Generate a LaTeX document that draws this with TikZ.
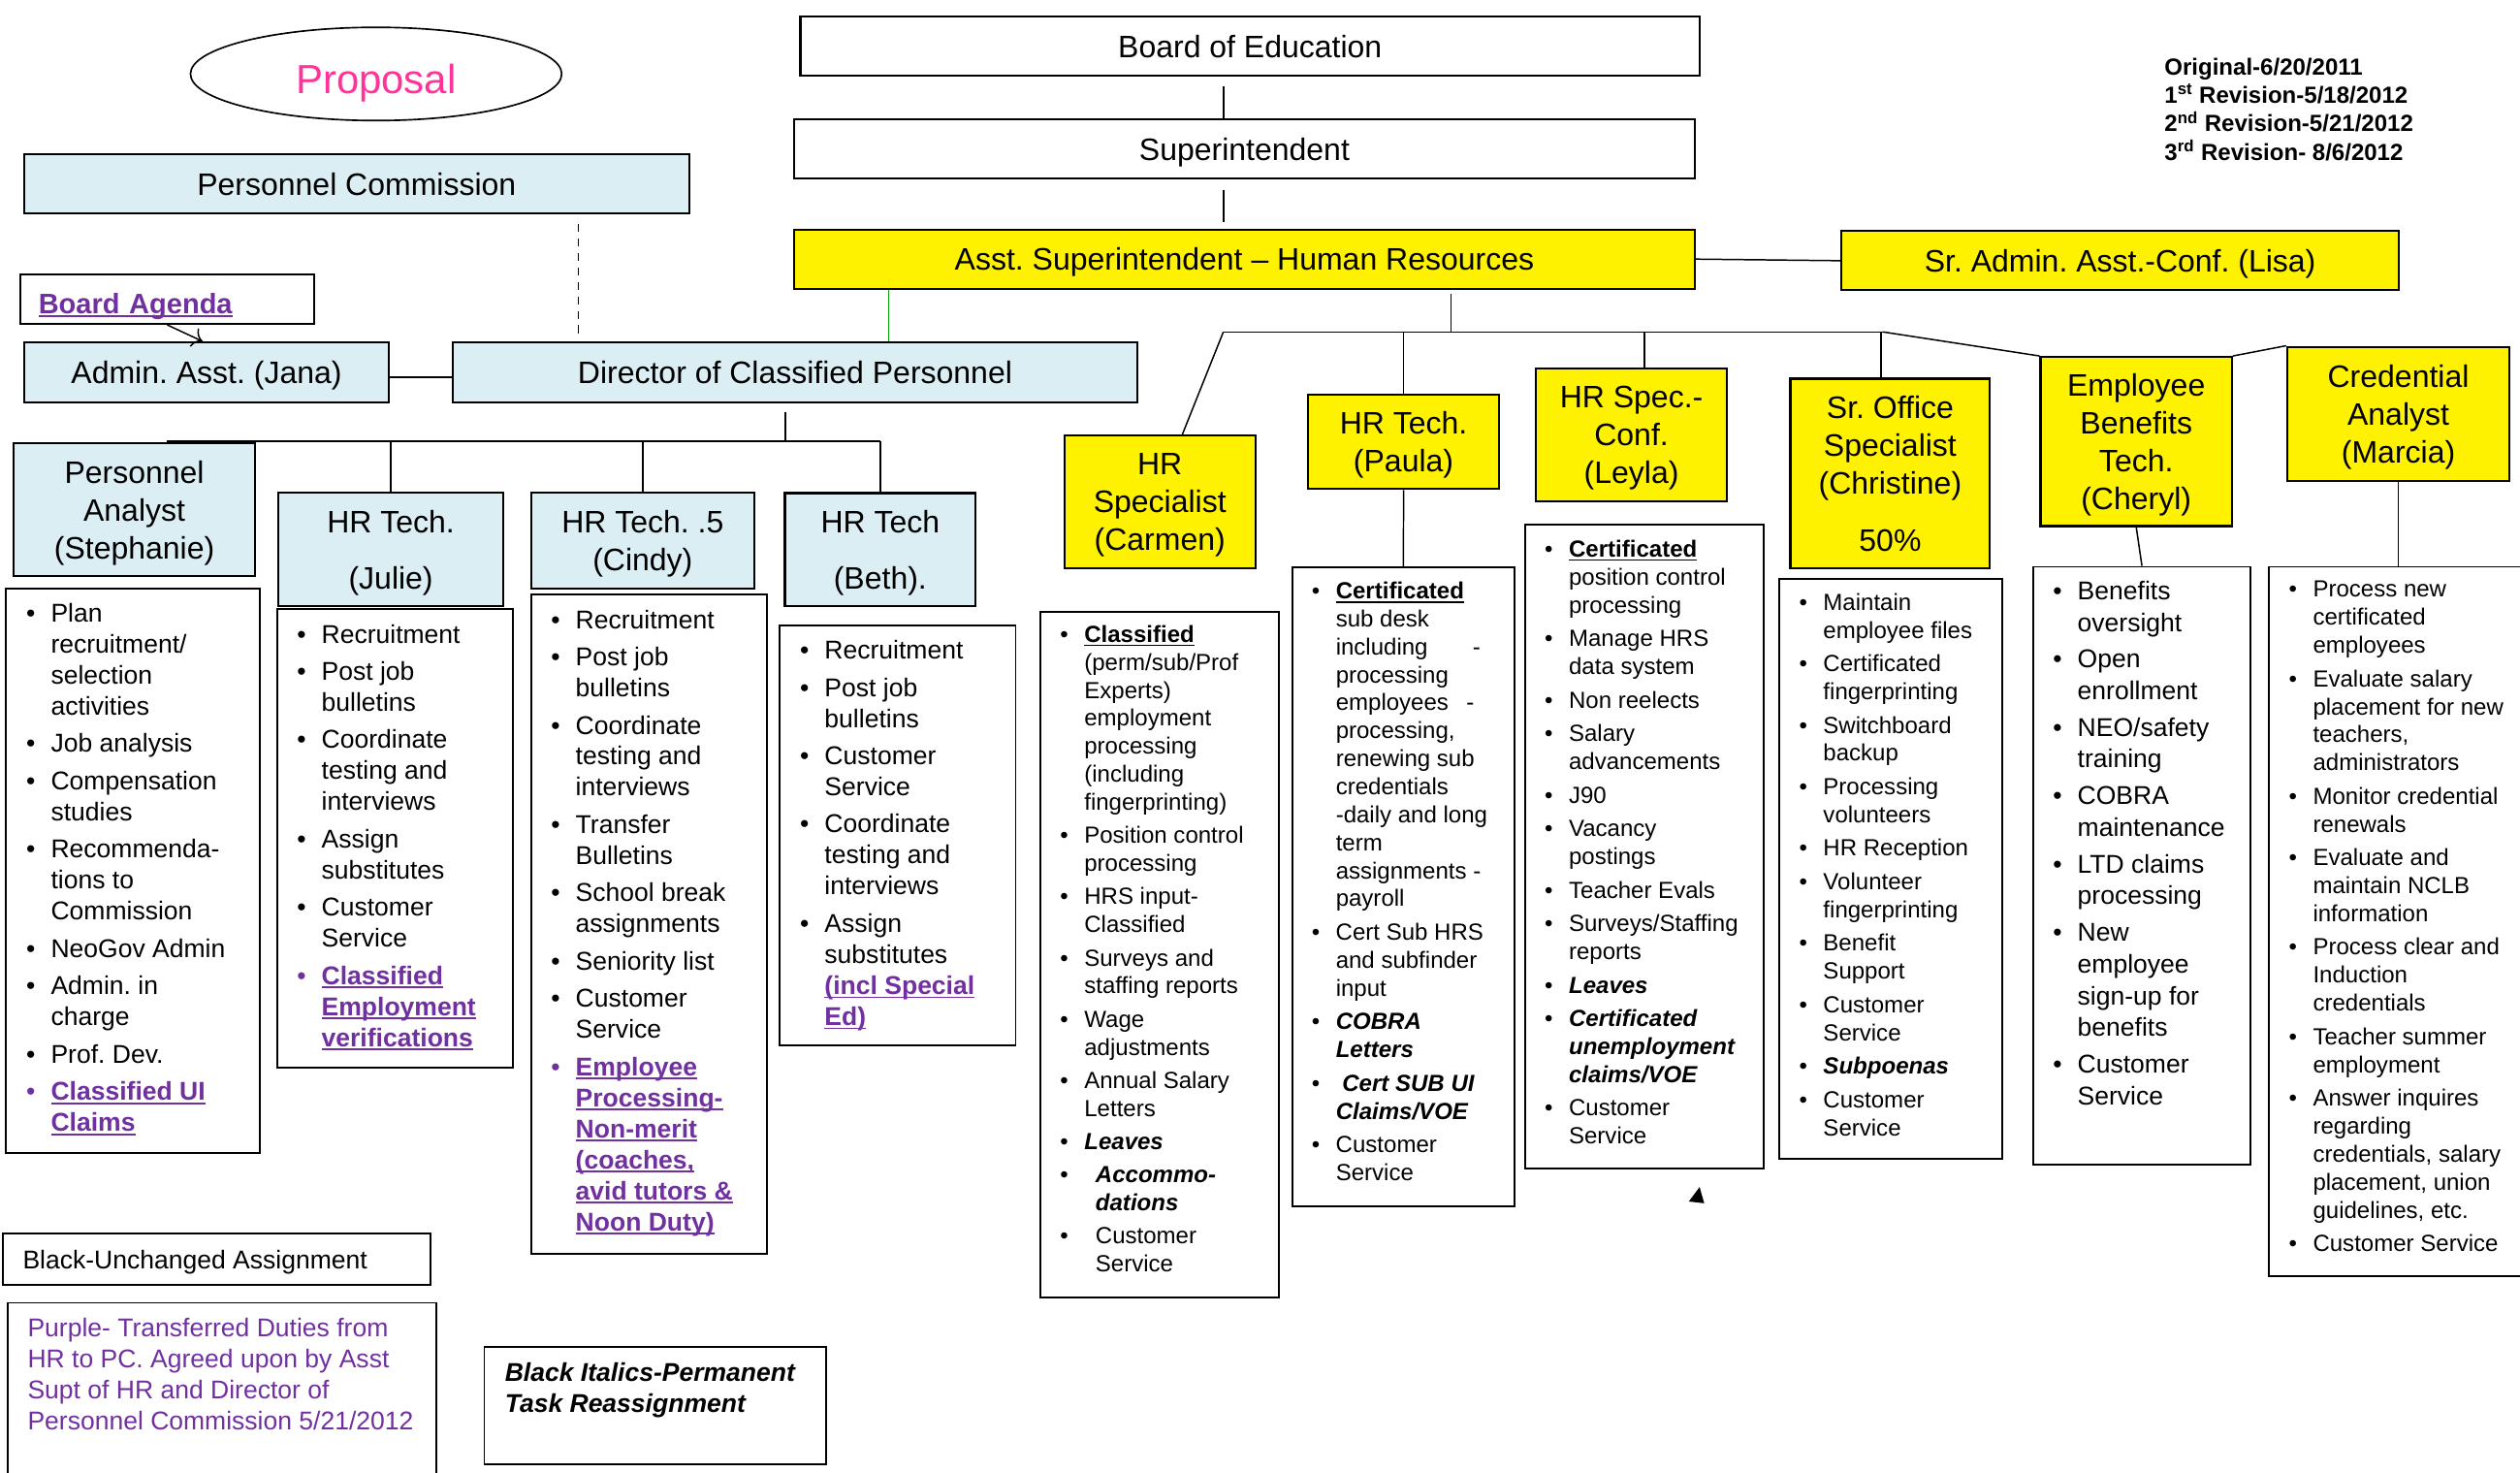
\documentclass[tikz,border=0pt]{standalone}
\usepackage{fontspec}
\setmainfont{Liberation Sans}
\usetikzlibrary{shapes.geometric,arrows.meta}

\definecolor{purp}{RGB}{112,48,160}
\definecolor{aqua}{RGB}{218,238,243}
\definecolor{propink}{RGB}{255,51,153}
\definecolor{hrgreen}{RGB}{0,160,0}

% duty lists
\newlength{\dgap}
\newcommand{\blt}{\makebox[25pt]{\textbullet}}
\newcommand{\pblt}{\makebox[25pt]{\color{purp}\textbullet}}
\newcommand{\ulin}[1]{\setbox0=\hbox{#1}\rlap{\rule[-2.4pt]{\wd0}{1.1pt}}\box0}
\newcommand{\pul}[1]{{\color{purp}\bfseries\ulin{#1}}}
\newcommand{\bul}[1]{{\bfseries\ulin{#1}}}
\newcommand{\bita}[1]{{\bfseries\itshape #1}}
\newcommand{\nxt}{\\[\dgap]}
\newcommand{\duties}[2][3.9pt]{\setlength{\dgap}{#1}\begin{tabular}[t]{@{}l@{}l@{}}#2\end{tabular}}

\begin{document}
\frenchspacing
\begin{tikzpicture}[x=1pt, y=-1pt,
  sz/.style 2 args={minimum width=#1pt, minimum height=#2pt},
  hdr/.style={draw, line width=1.3pt, inner sep=0pt, align=center, text depth=0pt,
              font=\fontsize{19.3}{23.5}\selectfont},
  plainhdr/.style={hdr, fill=white},
  aquahdr/.style={hdr, fill=aqua},
  yelhdr/.style={hdr, fill=yellow},
  dutybox/.style={draw, line width=1.1pt, inner sep=0pt},
  dutyL/.style={anchor=base west, inner sep=0pt, font=\fontsize{16}{19.3}\selectfont},
  dutyR/.style={anchor=base west, inner sep=0pt, font=\fontsize{14.5}{17.4}\selectfont},
  conn/.style={line width=0.9pt}]
  \useasboundingbox (0,0) rectangle (1568,916);

  % title and revisions
  \node[ellipse, draw, line width=1pt, sz={231}{58}, inner sep=0pt, text=propink,
        text height=24.6pt, text depth=0pt, font=\fontsize{25.3}{30}\selectfont] (proposal) at (234,46) {Proposal};
  \node[anchor=base west, inner sep=0pt, font=\fontsize{14.5}{17.2}\selectfont\bfseries] (revs) at (1346.6,47)
    {\begin{tabular}[t]{@{}l@{}}Original-6/20/2011\\
     1\textsuperscript{st} Revision-5/18/2012\\
     2\textsuperscript{nd} Revision-5/21/2012\\
     3\textsuperscript{rd} Revision- 8/6/2012\end{tabular}};

  % top chain
  \node[plainhdr, sz={559.6}{36.8}] (board) at (777.8,28.9) {Board of Education};
  \node[plainhdr, sz={560.6}{36.6}] (super) at (774.3,92.7) {Superintendent};
  \node[yelhdr, sz={560.6}{36.8}] (asst) at (774.3,161.2) {Asst. Superintendent – Human Resources};
  \node[yelhdr, sz={346.9}{36.8}] (lisa) at (1319.2,162.2) {Sr. Admin. Asst.-Conf. (Lisa)};

  % personnel commission side
  \node[aquahdr, sz={413.7}{36.7}] (pcom) at (221.9,114.4) {Personnel Commission};
  \node[plainhdr, sz={183.2}{31}, align=left, text width=160.2pt, inner xsep=11.5pt,
        text height=18pt, font=\fontsize{17.5}{21}\selectfont] (agenda) at (104.1,186) {\pul{Board Agenda}};
  \node[aquahdr, sz={227}{37.4}] (jana) at (128.5,231.7) {Admin. Asst. (Jana)};
  \node[aquahdr, sz={426.2}{37.4}] (director) at (494.7,231.7) {Director of Classified Personnel};

  \node[aquahdr, sz={150.2}{82.7}] (steph) at (83.6,317.2) {Personnel\\Analyst\\(Stephanie)};
  \node[aquahdr, sz={140.3}{70.5}] (julie) at (243.2,341.8) {HR Tech.\\[11.5pt](Julie)};
  \node[aquahdr, sz={138.6}{59.8}] (cindy) at (399.9,336.4) {HR Tech. .5\\(Cindy)};
  \node[aquahdr, sz={118.7}{70.4}] (beth) at (547.7,342) {HR Tech\\[11.5pt](Beth).};

  % human resources side
  \node[yelhdr, sz={118.8}{82.9}] (carmen) at (721.7,312.3) {HR\\Specialist\\(Carmen)};
  \node[yelhdr, sz={118.5}{59}] (paula) at (873.3,274.8) {HR Tech.\\(Paula)};
  \node[yelhdr, sz={118.8}{82.6}] (leyla) at (1015.1,270.7) {HR Spec.-\\Conf.\\(Leyla)};
  \node[yelhdr, sz={124.2}{117.8}] (chris) at (1176.1,294.5) {Sr. Office\\Specialist\\(Christine)\\[12pt]50\%};
  \node[yelhdr, sz={119.1}{105.2}] (cheryl) at (1329.2,274.7) {Employee\\Benefits\\Tech.\\(Cheryl)};
  \node[yelhdr, sz={138.4}{83.3}] (marcia) at (1492.3,257.4) {Credential\\Analyst\\(Marcia)};

  % duty boxes
  \node[dutybox, sz={158.1}{351.5}] (stephL) at (82.85,541.75) {};
  \node[dutybox, sz={146.5}{285.3}] (julieL) at (245.95,521.65) {};
  \node[dutybox, sz={146.7}{410}] (cindyL) at (403.85,575) {};
  \node[dutybox, sz={146.7}{261.4}] (bethL) at (558.65,519.7) {};
  \node[dutybox, sz={148.3}{426.6}] (carmenL) at (721.65,594) {};
  \node[dutybox, sz={138.5}{397.5}] (paulaL) at (873.25,551.75) {};
  \node[dutybox, sz={148.6}{400.4}] (leylaL) at (1023.1,526.8) {};
  \node[dutybox, sz={138.9}{360.6}] (chrisL) at (1176.45,540.5) {};
  \node[dutybox, sz={135.5}{371.9}] (cherylL) at (1332.75,538.55) {};
  \node[dutybox, sz={168.2}{441.4}] (marciaL) at (1495.9,573.3) {};

  % connectors, top
  \coordinate (spine) at (761.4,0);
  \draw[conn, shorten <=6pt] (board.south -| spine) -- (super.north -| spine);
  \draw[conn, shorten <=6.7pt, shorten >=4pt] (super.south -| spine) -- (asst.north -| spine);
  \draw[conn] (asst.east) -- (lisa.west);

  % connectors, HR
  \coordinate (hrbar) at (902.8,206.5);
  \coordinate (hrL) at (761.2,206.5);
  \coordinate (hrR) at (1171.6,206.5);
  \draw[conn, shorten <=2.4pt] (asst.south -| hrbar) -- (hrbar);
  \draw[conn] (hrL) -- (hrR);
  \draw[conn] (hrL) -- ([xshift=14pt]carmen.north);
  \draw[conn] (paula.north |- hrbar) -- (paula.north);
  \draw[conn] ([xshift=8.1pt]leyla.north |- hrbar) -- ([xshift=8.1pt]leyla.north);
  \draw[conn] ([xshift=-5.7pt]chris.north |- hrbar) -- ([xshift=-5.7pt]chris.north);
  \draw[conn] (hrR) -- (cheryl.north west);
  \draw[conn] (cheryl.north east) -- (marcia.north west);
  \draw[conn] (paula.south) -- (paulaL.north);
  \draw[conn] (cheryl.south) -- (cherylL.north);
  \draw[conn] (marcia.south) -- (marcia.south |- marciaL.north);

  % connectors, personnel commission
  \coordinate (dashx) at (360,0);
  \coordinate (gx) at (552.8,0);
  \coordinate (pcbar) at (488.7,274.5);
  \coordinate (pcL) at (104,274.5);
  \coordinate (pcR) at (547.6,274.5);
  \draw[conn, dash pattern=on 5pt off 4pt, shorten <=6pt, shorten >=2pt] (pcom.south -| dashx) -- (director.north -| dashx);
  \draw[hrgreen, line width=0.7pt] (asst.south -| gx) -- (director.north -| gx);
  \draw[conn] ([yshift=-3pt]jana.east) -- ([yshift=-3pt]director.west);
  \draw[conn, -{To[length=6pt]}] (agenda.south) -- ([xshift=-2.5pt]jana.north);
  \draw[conn, shorten <=5.6pt] (director.south -| pcbar) -- (pcbar);
  \draw[conn] (pcL) -- (pcR);
  \draw[conn] (julie.north |- pcbar) -- (julie.north);
  \draw[conn] (cindy.north |- pcbar) -- (cindy.north);
  \draw[conn] (beth.north |- pcbar) -- (beth.north);

  % duty lists, personnel commission
  \node[dutyL] (stephT) at (6.5,387) {\duties{
    \blt & Plan\\ & recruitment/\\ & selection\\ & activities\nxt
    \blt & Job analysis\nxt
    \blt & Compensation\\ & studies\nxt
    \blt & Recommenda-\\ & tions to\\ & Commission\nxt
    \blt & NeoGov Admin\nxt
    \blt & Admin. in\\ & charge\nxt
    \blt & Prof. Dev.\nxt
    \pblt & \pul{Classified UI}\\ & \pul{Claims}}};
  \node[dutyL] (julieT) at (174.9,400) {\duties{
    \blt & Recruitment\nxt
    \blt & Post job\\ & bulletins\nxt
    \blt & Coordinate\\ & testing and\\ & interviews\nxt
    \blt & Assign\\ & substitutes\nxt
    \blt & Customer\\ & Service\nxt
    \pblt & \pul{Classified}\\ & \pul{Employment}\\ & \pul{verifications}}};
  \node[dutyL] (cindyT) at (333,391) {\duties{
    \blt & Recruitment\nxt
    \blt & Post job\\ & bulletins\nxt
    \blt & Coordinate\\ & testing and\\ & interviews\nxt
    \blt & Transfer\\ & Bulletins\nxt
    \blt & School break\\ & assignments\nxt
    \blt & Seniority list\nxt
    \blt & Customer\\ & Service\nxt
    \pblt & \pul{Employee}\\ & \pul{Processing-}\\ & \pul{Non-merit}\\ & \pul{(coaches,}\\
          & \pul{avid tutors \&}\\ & \pul{Noon Duty)}}};
  \node[dutyL] (bethT) at (487.9,410) {\duties{
    \blt & Recruitment\nxt
    \blt & Post job\\ & bulletins\nxt
    \blt & Customer\\ & Service\nxt
    \blt & Coordinate\\ & testing and\\ & interviews\nxt
    \blt & Assign\\ & substitutes\\ & \pul{(incl Special}\\ & \pul{Ed)}}};

  % duty lists, human resources
  \node[dutyR] (carmenT) at (649.5,399.6) {\duties[3.3pt]{
    \blt & \bul{Classified}\\ & (perm/sub/Prof\\ & Experts)\\ & employment\\ & processing\\
         & (including\\ & fingerprinting)\nxt
    \blt & Position control\\ & processing\nxt
    \blt & HRS input-\\ & Classified\nxt
    \blt & Surveys and\\ & staffing reports\nxt
    \blt & Wage\\ & adjustments\nxt
    \blt & Annual Salary\\ & Letters\nxt
    \blt & \bita{Leaves}\nxt
    \blt & \hspace{7pt}\bita{Accommo-}\\ & \hspace{7pt}\bita{dations}\nxt
    \blt & \hspace{7pt}Customer\\ & \hspace{7pt}Service}};
  \node[dutyR] (paulaT) at (806,372.6) {\duties[3.5pt]{
    \blt & \bul{Certificated}\\ & sub desk\\ & \makebox[90pt][s]{including\hfill-}\\ & processing\\
         & \makebox[86pt][s]{employees\hfill-}\\ & processing,\\ & renewing sub\\ & credentials\\
         & -daily and long\\ & term\\ & assignments -\\ & payroll\nxt
    \blt & Cert Sub HRS\\ & and subfinder\\ & input\nxt
    \blt & \bita{COBRA}\\ & \bita{Letters}\nxt
    \blt & \hspace{4pt}\bita{Cert SUB UI}\\ & \bita{Claims/VOE}\nxt
    \blt & Customer\\ & Service}};
  \node[dutyR] (leylaT) at (951,346.6) {\duties[3.45pt]{
    \blt & \bul{Certificated}\\ & position control\\ & processing\nxt
    \blt & Manage HRS\\ & data system\nxt
    \blt & Non reelects\nxt
    \blt & Salary\\ & advancements\nxt
    \blt & J90\nxt
    \blt & Vacancy\\ & postings\nxt
    \blt & Teacher Evals\nxt
    \blt & Surveys/Staffing\\ & reports\nxt
    \blt & \bita{Leaves}\nxt
    \blt & \bita{Certificated}\\ & \bita{unemployment}\\ & \bita{claims/VOE}\nxt
    \blt & Customer\\ & Service}};
  \node[dutyR] (chrisT) at (1109.3,379.6) {\duties[3.47pt]{
    \blt & Maintain\\ & employee files\nxt
    \blt & Certificated\\ & fingerprinting\nxt
    \blt & Switchboard\\ & backup\nxt
    \blt & Processing\\ & volunteers\nxt
    \blt & HR Reception\nxt
    \blt & Volunteer\\ & fingerprinting\nxt
    \blt & Benefit\\ & Support\nxt
    \blt & Customer\\ & Service\nxt
    \blt & \bita{Subpoenas}\nxt
    \blt & Customer\\ & Service}};
  \node[dutyL, font=\fontsize{16}{19.8}\selectfont] (cherylT) at (1267.5,373) {\duties[2.9pt]{
    \blt & Benefits\\ & oversight\nxt
    \blt & Open\\ & enrollment\nxt
    \blt & NEO/safety\\ & training\nxt
    \blt & COBRA\\ & maintenance\nxt
    \blt & LTD claims\\ & processing\nxt
    \blt & New\\ & employee\\ & sign-up for\\ & benefits\nxt
    \blt & Customer\\ & Service}};
  \node[dutyR] (marciaT) at (1414,371.6) {\duties[3.46pt]{
    \blt & Process new\\ & certificated\\ & employees\nxt
    \blt & Evaluate salary\\ & placement for new\\ & teachers,\\ & administrators\nxt
    \blt & Monitor credential\\ & renewals\nxt
    \blt & Evaluate and\\ & maintain NCLB\\ & information\nxt
    \blt & Process clear and\\ & Induction\\ & credentials\nxt
    \blt & Teacher summer\\ & employment\nxt
    \blt & Answer inquires\\ & regarding\\ & credentials, salary\\ & placement, union\\ & guidelines, etc.\nxt
    \blt & Customer Service}};
  \fill (1050.8,747.5) -- (1057.5,738.5) -- (1060.4,748.6) -- cycle;

  % legend
  \node[dutybox, sz={266.3}{31.8}] (unch) at (134.85,783.5) {};
  \node[anchor=base west, inner sep=0pt, font=\fontsize{16}{19.3}\selectfont] (unchT) at (14,789.5)
    {Black-Unchanged Assignment};
  \node[dutybox, sz={266.5}{119.5}] (purpbox) at (138.25,870.25) {};
  \node[anchor=base west, inner sep=0pt, text=purp, font=\fontsize{16}{19.3}\selectfont] (purpT) at (17,831.5)
    {\begin{tabular}[t]{@{}l@{}}Purple- Transferred Duties from\\HR to PC. Agreed upon by Asst\\
     Supt of HR and Director of\\Personnel Commission 5/21/2012\end{tabular}};
  \node[dutybox, sz={212.7}{73}] (italbox) at (407.65,874.5) {};
  \node[anchor=base west, inner sep=0pt, font=\fontsize{16}{19.3}\selectfont\bfseries\itshape] (italT) at (314,859.5)
    {\begin{tabular}[t]{@{}l@{}}Black Italics-Permanent\\Task Reassignment\end{tabular}};
\end{tikzpicture}
\end{document}
